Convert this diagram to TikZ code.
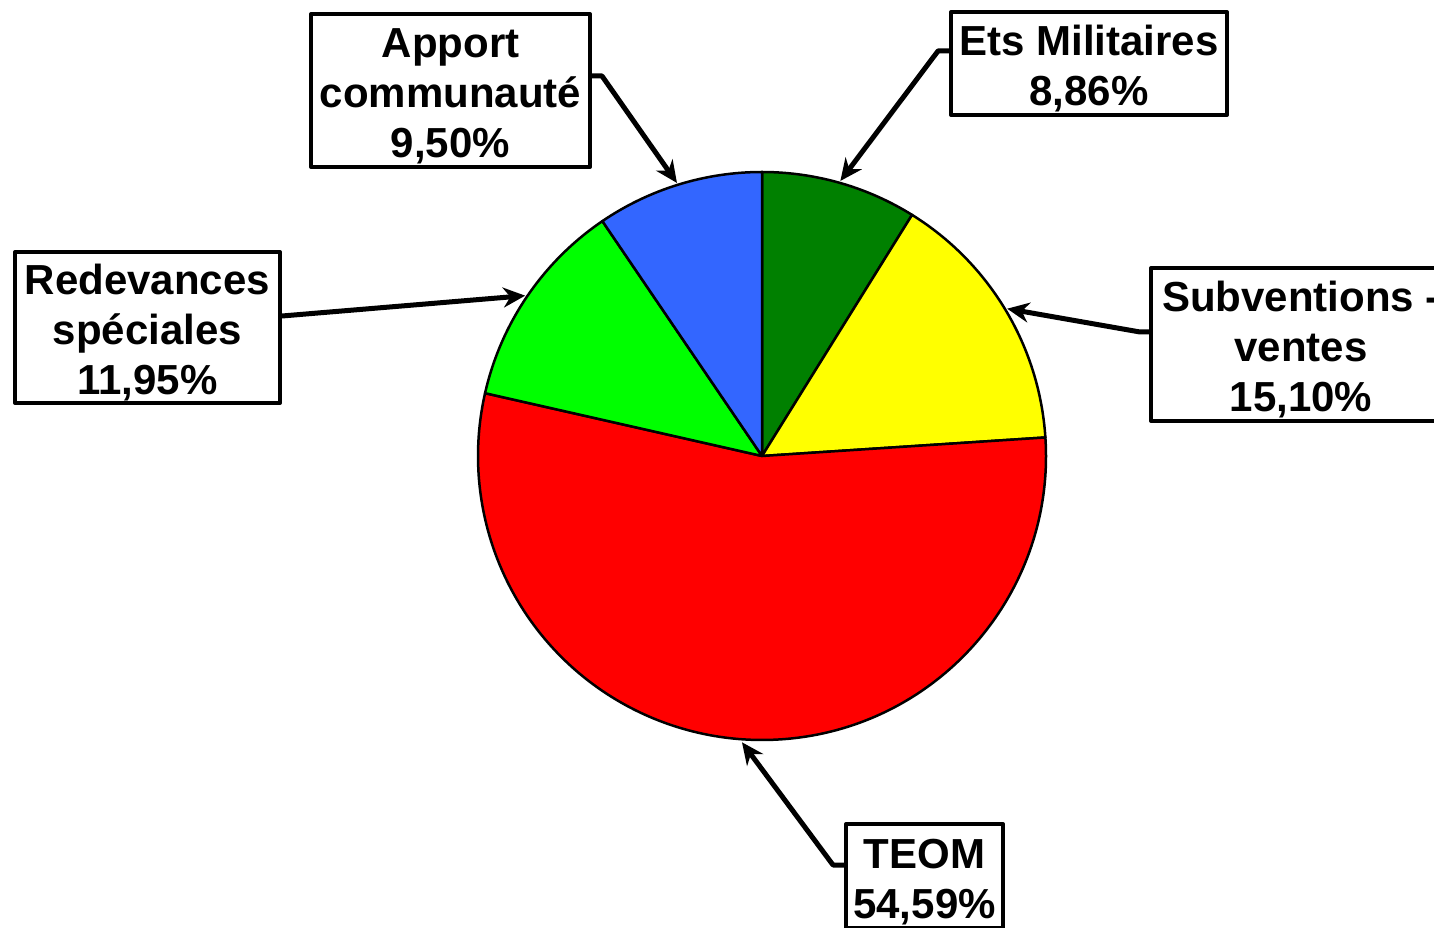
\documentclass[tikz,border=0pt]{standalone}
\usepackage{fontspec}
\setmainfont{Liberation Sans}
\usetikzlibrary{arrows.meta, calc}
\definecolor{vertfonce}{RGB}{0,128,0}
\definecolor{jaune}{RGB}{255,255,0}
\definecolor{rouge}{RGB}{255,0,0}
\definecolor{vertclair}{RGB}{0,255,0}
\definecolor{bleu}{RGB}{51,102,255}
\newcommand{\hautligne}{\rule{0pt}{41pt}}
\begin{document}
\begin{tikzpicture}[x=1pt, y=1pt, line join=round, font=\fontsize{42}{50}\selectfont\bfseries, >={Stealth[length=22pt,width=20pt]}]
			\tikzset{part/.style={draw=black, line width=2.5pt}}
			\tikzset{etiquette/.style={draw, line width=4pt, align=center, inner sep=0pt}}
			\tikzset{fleche/.style={->, line width=5pt}}
			\useasboundingbox (0,0) rectangle (1434,927);
			\coordinate (O) at (762,471);
			% secteurs
			\filldraw[part, fill=vertfonce] (O) -- +(90:284) arc[start angle=90, end angle=58.104, radius=284] -- cycle;
			\filldraw[part, fill=jaune] (O) -- +(58.104:284) arc[start angle=58.104, end angle=3.744, radius=284] -- cycle;
			\filldraw[part, fill=rouge] (O) -- +(3.744:284) arc[start angle=3.744, end angle=-192.78, radius=284] -- cycle;
			\filldraw[part, fill=vertclair] (O) -- +(-192.78:284) arc[start angle=-192.78, end angle=-235.8, radius=284] -- cycle;
			\filldraw[part, fill=bleu] (O) -- +(-235.8:284) arc[start angle=-235.8, end angle=-270, radius=284] -- cycle;
			% etiquettes
			\node[etiquette, minimum width=279, minimum height=153] (apport) at (450.5,836.5) {\hautligne Apport\\communauté\\9,50\%};
			\node[etiquette, minimum width=276, minimum height=103] (ets) at (1089,863.5) {\hautligne Ets Militaires\\8,86\%};
			\node[etiquette, minimum width=300, minimum height=153] (subv) at (1301,582.5) {\hautligne Subventions -\\ventes\\15,10\%};
			\node[etiquette, minimum width=265, minimum height=151] (redev) at (147.5,599.5) {\hautligne Redevances\\spéciales\\11,95\%};
			\node[etiquette, minimum width=157, minimum height=104] (teom) at (924.5,51) {\hautligne TEOM\\54,59\%};
			% fleches
			\coordinate (apportpt) at ($(O)+(107.3:286)$);
			\coordinate (etspt) at ($(O)+(74.1:286)$);
			\coordinate (subvpt) at ($(O)+(31:286)$);
			\coordinate (redevpt) at ($(O)+(145.9:286)$);
			\coordinate (teompt) at ($(O)+(266:287)$);
			\coordinate (apportk) at (602,851);
			\coordinate (etsk) at (938,876);
			\coordinate (subvk) at (1140,595);
			\coordinate (teomk) at (833,62);
			\draw[fleche] (apport.east |- apportk) -- (apportk) -- (apportpt);
			\draw[fleche] (ets.west |- etsk) -- (etsk) -- (etspt);
			\draw[fleche] (subv.west |- subvk) -- (subvk) -- (subvpt);
			\draw[fleche] ([yshift=11.5pt]redev.east) -- (redevpt);
			\draw[fleche] (teom.west |- teomk) -- (teomk) -- (teompt);
		\end{tikzpicture}
\end{document}
